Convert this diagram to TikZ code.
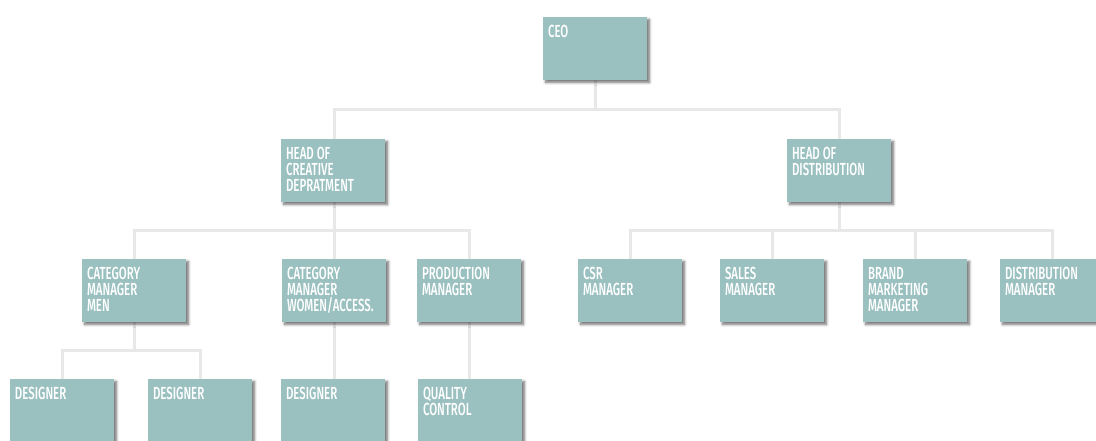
\documentclass[tikz,border=0pt]{standalone}
\usepackage{fontspec}
\setmainfont{Fira Sans}[FakeStretch=0.655, UprightFont={* Medium}]
\usetikzlibrary{shadows.blur}
\definecolor{boxfill}{HTML}{9BC0C0}
\definecolor{linegray}{HTML}{E8E8E8}
\newcommand\bxt[1]{\parbox[c][63pt][t]{104pt}{\raggedright\leftskip=5pt\fontsize{17.5}{16}\selectfont\color{white}\rule{0pt}{20pt}#1}}
\tikzset{
  orgbox/.style={fill=boxfill, inner sep=0pt, outer sep=0pt, anchor=north west,
    blur shadow={shadow xshift=2.5pt, shadow yshift=-2.5pt, shadow blur steps=6, shadow blur radius=2.5pt, shadow opacity=55}},
  conn/.style={draw=linegray, line width=3pt}
}
\begin{document}
\begin{tikzpicture}[x=1pt,y=-1pt]
\useasboundingbox (0,0) rectangle (1096,440);
\clip (0,0) rectangle (1096,440);
% connectors first
\coordinate (ceoS) at (595,80);
\coordinate (hcN) at (334,139);
\coordinate (hdN) at (839,139);
\coordinate (hcS) at (334,202);
\coordinate (hdS) at (839,202);
\coordinate (cmN) at (134,259);
\coordinate (cwN) at (334,259);
\coordinate (pmN) at (469,259);
\coordinate (csN) at (630,259);
\coordinate (saN) at (772,259);
\coordinate (brN) at (915,259);
\coordinate (dmN) at (1052,259);
\coordinate (cmS) at (134,322);
\coordinate (cwS) at (334,322);
\coordinate (pmS) at (469,322);
\coordinate (d1N) at (62,379);
\coordinate (d2N) at (200,379);
\coordinate (d3N) at (334,379);
\coordinate (qcN) at (469,379);
\draw[conn] (ceoS) -- ++(0,29) -| (hcN);
\draw[conn] (ceoS) -- ++(0,29) -| (hdN);
\draw[conn] (hcS) -- ++(0,28) -| (cmN);
\draw[conn] (hcS) -- (cwN);
\draw[conn] (hcS) -- ++(0,28) -| (pmN);
\draw[conn] (hdS) -- ++(0,28) -| (csN);
\draw[conn] (hdS) -- ++(0,28) -| (saN);
\draw[conn] (hdS) -- ++(0,28) -| (brN);
\draw[conn] (hdS) -- ++(0,28) -| (dmN);
\draw[conn] (cmS) -- ++(0,28) -| (d1N);
\draw[conn] (cmS) -- ++(0,28) -| (d2N);
\draw[conn] (cwS) -- (d3N);
\draw[conn] (pmS) -- (qcN);
% boxes
\node[orgbox] (ceo) at (543,17) {\bxt{CEO}};
\node[orgbox] (hc) at (281,139) {\bxt{HEAD OF\\CREATIVE\\DEPRATMENT}};
\node[orgbox] (hd) at (787,139) {\bxt{HEAD OF\\DISTRIBUTION}};
\node[orgbox] (cm) at (82,259) {\bxt{CATEGORY\\MANAGER\\MEN}};
\node[orgbox] (cw) at (282,259) {\bxt{CATEGORY\\MANAGER\\WOMEN/ACCESS.}};
\node[orgbox] (pm) at (417,259) {\bxt{PRODUCTION\\MANAGER}};
\node[orgbox] (cs) at (578,259) {\bxt{CSR\\MANAGER}};
\node[orgbox] (sa) at (720,259) {\bxt{SALES\\MANAGER}};
\node[orgbox] (br) at (863,259) {\bxt{BRAND\\MARKETING\\MANAGER}};
\node[orgbox] (dm) at (1000,259) {\bxt{DISTRIBUTION\\MANAGER}};
\node[orgbox] (d1) at (10,379) {\bxt{DESIGNER}};
\node[orgbox] (d2) at (148,379) {\bxt{DESIGNER}};
\node[orgbox] (d3) at (281,379) {\bxt{DESIGNER}};
\node[orgbox] (qc) at (418,379) {\bxt{QUALITY\\CONTROL}};
\end{tikzpicture}
\end{document}
